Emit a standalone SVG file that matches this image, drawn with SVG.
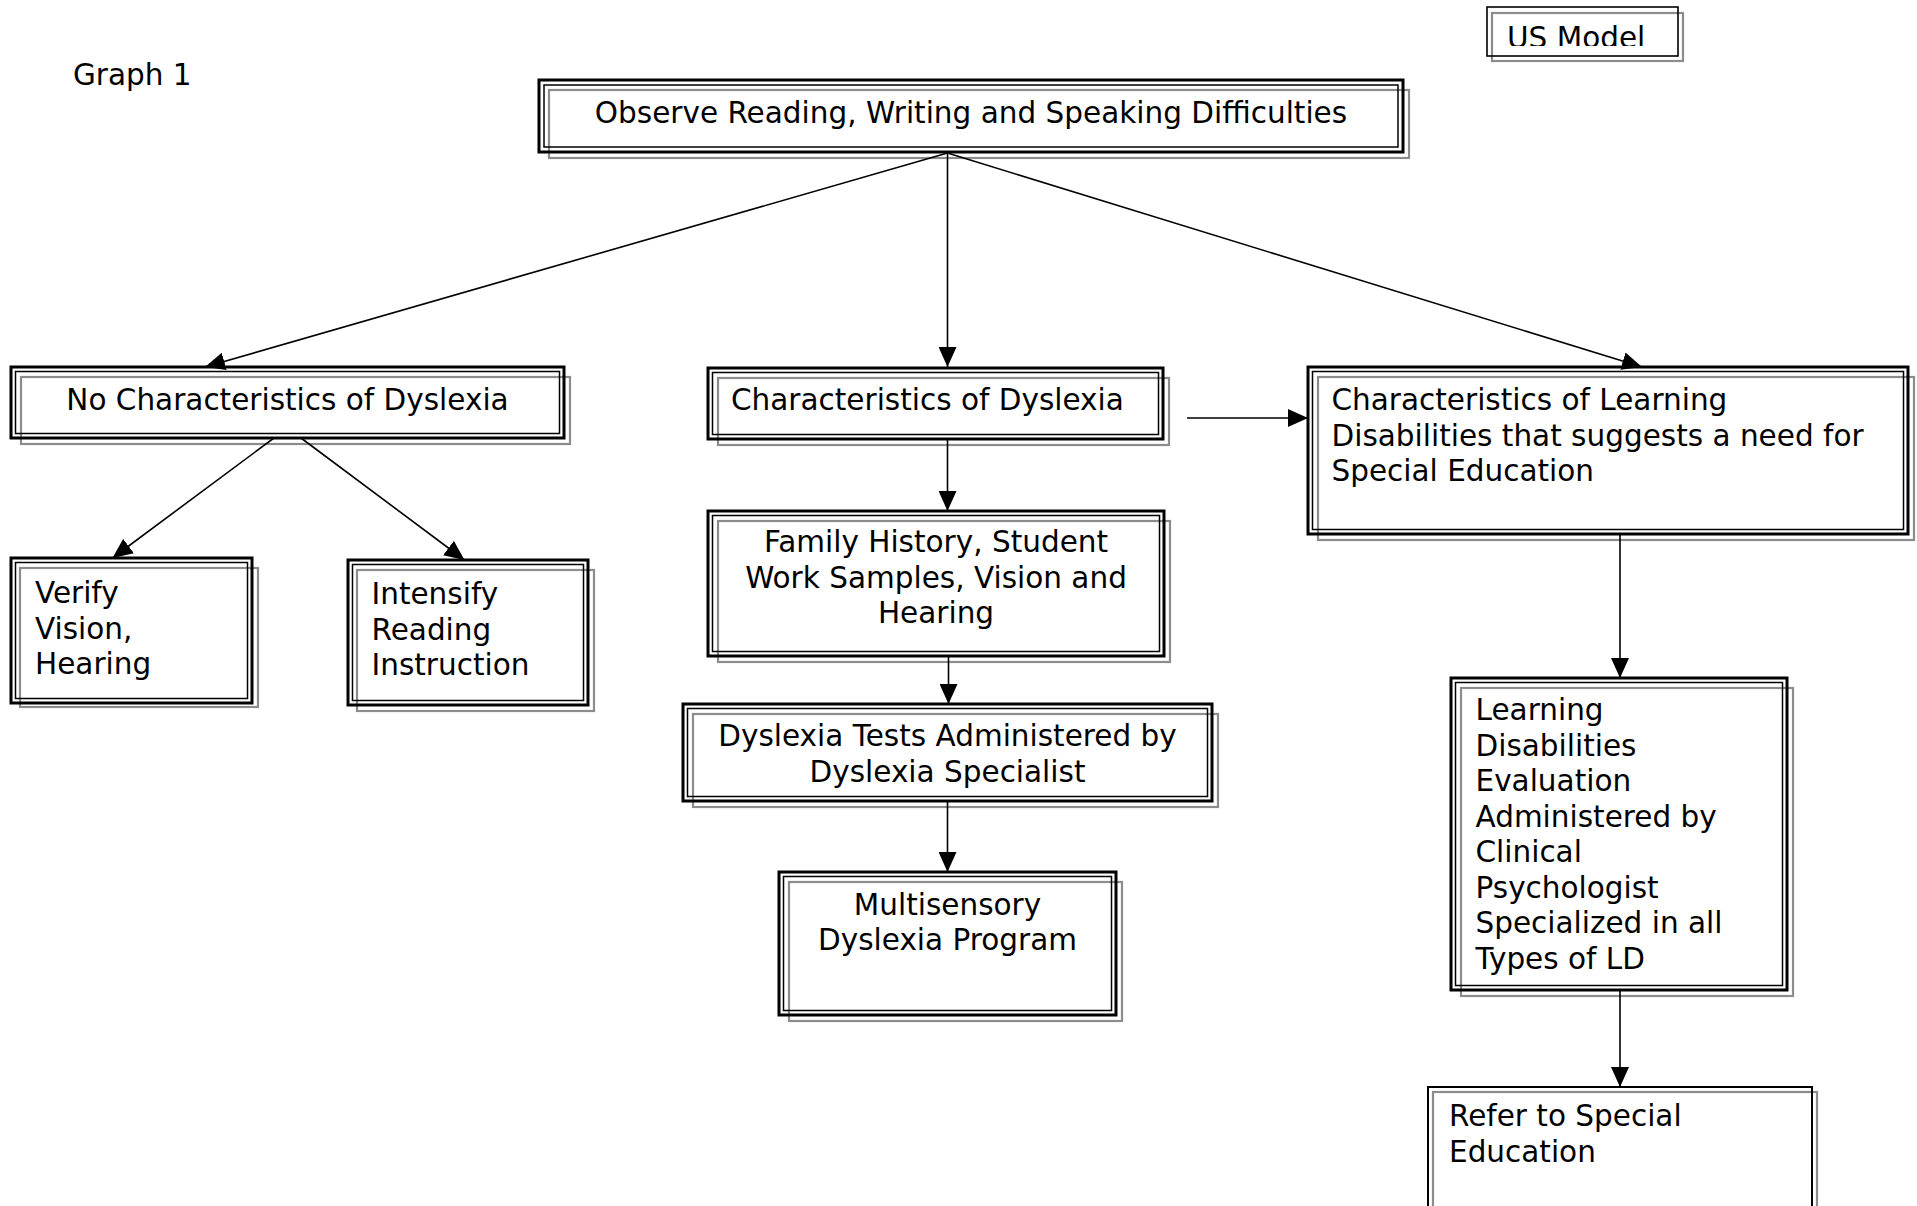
<svg xmlns="http://www.w3.org/2000/svg" width="1917" height="1206" viewBox="0 0 1917 1206">
<style>
text{font-family:"DejaVu Sans","Verdana",sans-serif;font-size:29.5px;fill:#000}
.o{fill:none;stroke:#000;stroke-width:3}
.i{fill:none;stroke:#000;stroke-width:1.5}
.g{fill:none;stroke:#8c8c8c;stroke-width:2.2}
.c{fill:none;stroke:#000;stroke-width:1.6}
.m{text-anchor:middle}
</style>
<defs>
<marker id="arr" viewBox="0 0 20 18" refX="20" refY="9" markerWidth="20" markerHeight="18" orient="auto" markerUnits="userSpaceOnUse"><path d="M0,0 L20,9 L0,18 z" fill="#000"/></marker>
<clipPath id="usclip"><rect x="1480" y="0" width="210" height="46"/></clipPath>
</defs>
<rect width="1917" height="1206" fill="#fff"/>
<text x="73" y="85">Graph 1</text>
<g id="us-model">
<rect class="g" x="1492" y="13" width="191" height="48"/>
<rect x="1487" y="7" width="191" height="49" fill="none" stroke="#000" stroke-width="1.6"/>
<text x="1507" y="48" clip-path="url(#usclip)">US Model</text>
</g>
<g id="observe">
<rect class="g" x="549" y="90" width="860" height="68"/>
<rect class="o" x="539" y="80" width="864" height="72"/>
<rect class="i" x="544" y="85" width="854" height="62"/>
<text class="m" x="971" y="123">Observe Reading, Writing and Speaking Difficulties</text>
</g>
<g id="no-char">
<rect class="g" x="21" y="377" width="549" height="67"/>
<rect class="o" x="11" y="367" width="553" height="71"/>
<rect class="i" x="15.5" y="371.5" width="544" height="62"/>
<text class="m" x="287.5" y="410">No Characteristics of Dyslexia</text>
</g>
<g id="verify">
<rect class="g" x="20" y="568" width="238" height="139"/>
<rect class="o" x="11" y="558" width="241" height="145"/>
<rect class="i" x="15.5" y="562.5" width="232" height="136"/>
<text x="35" y="603">Verify</text>
<text x="35" y="639">Vision,</text>
<text x="35" y="674">Hearing</text>
</g>
<g id="intensify">
<rect class="g" x="357" y="570" width="237" height="141"/>
<rect class="o" x="348" y="560" width="240" height="145"/>
<rect class="i" x="352.5" y="564.5" width="231" height="136"/>
<text x="371.5" y="604">Intensify</text>
<text x="371.5" y="640">Reading</text>
<text x="371.5" y="675">Instruction</text>
</g>
<g id="char-dyslexia">
<rect class="g" x="718" y="378" width="451" height="67"/>
<rect class="o" x="708" y="368" width="455" height="71"/>
<rect class="i" x="712.5" y="372.5" width="446" height="62"/>
<text x="731" y="410">Characteristics of Dyslexia</text>
</g>
<g id="family">
<rect class="g" x="718" y="521" width="452" height="141"/>
<rect class="o" x="708" y="511" width="456" height="145"/>
<rect class="i" x="712.5" y="515.5" width="447" height="136"/>
<text class="m" x="936" y="552">Family History, Student</text>
<text class="m" x="936" y="587.5">Work Samples, Vision and</text>
<text class="m" x="936" y="623">Hearing</text>
</g>
<g id="tests">
<rect class="g" x="693" y="714" width="525" height="93"/>
<rect class="o" x="683" y="704" width="529" height="97"/>
<rect class="i" x="687.5" y="708.5" width="520" height="88"/>
<text class="m" x="947.5" y="746">Dyslexia Tests Administered by</text>
<text class="m" x="947.5" y="781.5">Dyslexia Specialist</text>
</g>
<g id="multisensory">
<rect class="g" x="789" y="882" width="333" height="139"/>
<rect class="o" x="779" y="872" width="337" height="143"/>
<rect class="i" x="783.5" y="876.5" width="328" height="134"/>
<text class="m" x="947.5" y="915">Multisensory</text>
<text class="m" x="947.5" y="950">Dyslexia Program</text>
</g>
<g id="char-learning">
<rect class="g" x="1318" y="377" width="596" height="163"/>
<rect class="o" x="1308" y="367" width="600" height="167"/>
<rect class="i" x="1312.5" y="371.5" width="591" height="158"/>
<text x="1331.5" y="410">Characteristics of Learning</text>
<text x="1331.5" y="445.5">Disabilities that suggests a need for</text>
<text x="1331.5" y="481">Special Education</text>
</g>
<g id="ld-eval">
<rect class="g" x="1461" y="688" width="332" height="308"/>
<rect class="o" x="1451" y="678" width="336" height="312"/>
<rect class="i" x="1455.5" y="682.5" width="327" height="303"/>
<text x="1475.5" y="720">Learning</text>
<text x="1475.5" y="756">Disabilities</text>
<text x="1475.5" y="791">Evaluation</text>
<text x="1475.5" y="827">Administered by</text>
<text x="1475.5" y="862">Clinical</text>
<text x="1475.5" y="898">Psychologist</text>
<text x="1475.5" y="933">Specialized in all</text>
<text x="1475.5" y="969">Types of LD</text>
</g>
<g id="refer">
<rect class="g" x="1433" y="1092" width="384" height="140"/>
<rect x="1428" y="1087" width="384" height="140" fill="none" stroke="#000" stroke-width="2"/>
<text x="1449" y="1126">Refer to Special</text>
<text x="1449" y="1161.5">Education</text>
</g>
<g id="connectors">
<line class="c" x1="947.5" y1="153" x2="205" y2="367" marker-end="url(#arr)"/>
<line class="c" x1="947.5" y1="153" x2="947.5" y2="367" marker-end="url(#arr)"/>
<line class="c" x1="947.5" y1="153" x2="1642" y2="367" marker-end="url(#arr)"/>
<line class="c" x1="274" y1="438" x2="112.5" y2="558" marker-end="url(#arr)"/>
<line class="c" x1="301" y1="438" x2="464.5" y2="560" marker-end="url(#arr)"/>
<line class="c" x1="1187" y1="418" x2="1308" y2="418" marker-end="url(#arr)"/>
<line class="c" x1="947.5" y1="439" x2="947.5" y2="511" marker-end="url(#arr)"/>
<line class="c" x1="948.5" y1="656" x2="948.5" y2="704" marker-end="url(#arr)"/>
<line class="c" x1="947.5" y1="801" x2="947.5" y2="872" marker-end="url(#arr)"/>
<line class="c" x1="1620" y1="534" x2="1620" y2="678" marker-end="url(#arr)"/>
<line class="c" x1="1620" y1="990" x2="1620" y2="1087" marker-end="url(#arr)"/>
</g>
</svg>
